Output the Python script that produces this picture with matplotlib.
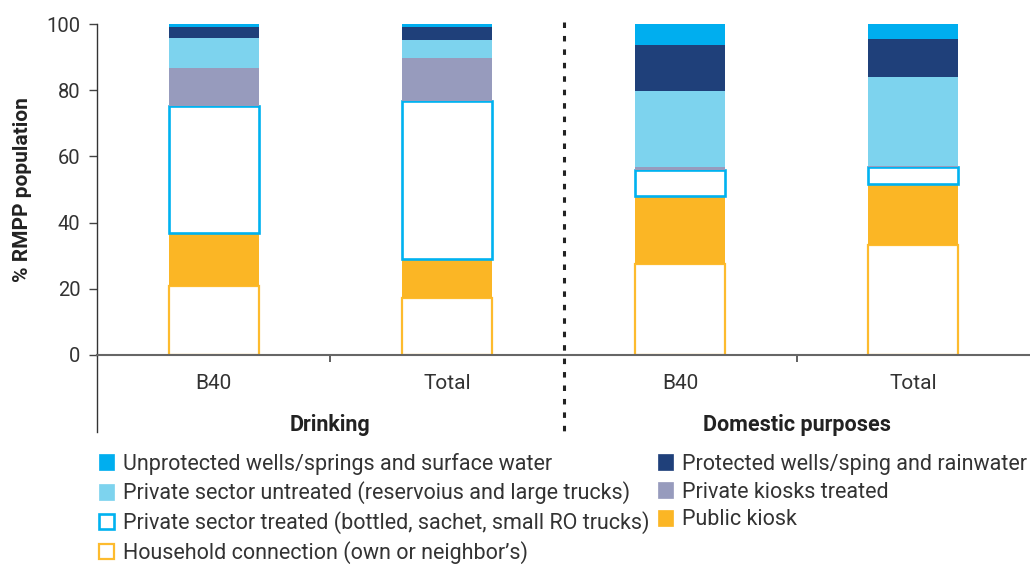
import matplotlib
matplotlib.use("Agg")
import matplotlib.pyplot as plt
import matplotlib.transforms as mtransforms
from matplotlib.patches import Patch
import numpy as np

plt.rcParams["font.family"] = ["Roboto", "DejaVu Sans"]

TEXT = "#333333"

bars = ["B40", "Total", "B40", "Total"]
groups = ["Drinking", "Domestic purposes"]

# stacked shares, bottom to top (% of RMPP population)
household = [20.8, 17.3, 27.4, 33.2]
public_kiosk = [16.2, 11.6, 20.6, 18.4]
private_treated = [38.1, 47.9, 7.8, 5.3]
kiosks_treated = [11.7, 13.0, 1.1, 0.2]
private_untreated = [9.1, 5.5, 22.9, 27.0]
protected = [3.3, 3.9, 13.9, 11.5]
unprotected = [0.8, 0.8, 6.3, 4.4]

series = [
    ("Household connection (own or neighbor\u2019s)", household, "white", "#FDBB2E", 1.6),
    ("Public kiosk", public_kiosk, "#FBB625", "none", 0),
    ("Private sector treated (bottled, sachet, small RO trucks)", private_treated, "white", "#00B2F0", 1.9),
    ("Private kiosks treated", kiosks_treated, "#979BBD", "none", 0),
    ("Private sector untreated (reservoius and large trucks)", private_untreated, "#7DD3EE", "none", 0),
    ("Protected wells/sping and rainwater", protected, "#1F407A", "none", 0),
    ("Unprotected wells/springs and surface water", unprotected, "#00AEEF", "none", 0),
]

fig = plt.figure(figsize=(10.30, 5.64), dpi=100)
ax = fig.add_axes([97 / 1030, 1 - 355 / 564, 1 - 97 / 1030, 331 / 564])

x = np.arange(len(bars))
width = 0.385
bottom = np.zeros(len(bars))
handles = {}
for label, vals, face, edge, lw in series:
    vals = np.array(vals)
    ax.bar(x, vals, width, bottom=bottom, color=face, edgecolor=edge, linewidth=lw, zorder=2)
    handles[label] = Patch(facecolor=face, edgecolor=edge if edge != "none" else face, linewidth=max(lw, 0.5))
    bottom += vals

ax.set_xlim(-0.5, len(bars) - 0.5)
ax.set_ylim(0, 100)
ax.set_yticks(range(0, 101, 20))
ax.set_xticks(x)
ax.set_xticklabels(bars)
ax.set_xticks([0.5, 2.5], minor=True)
ax.tick_params(axis="x", which="major", length=0, pad=14, labelsize=15, labelcolor=TEXT)
ax.tick_params(axis="x", which="minor", length=5, width=1.2, color="#444444", direction="out")
ax.tick_params(axis="y", length=6, width=1, color="#444444", pad=6, labelsize=14.5, labelcolor=TEXT)

for s in ["top", "right"]:
    ax.spines[s].set_visible(False)
ax.spines["left"].set_color("#333333")
ax.spines["left"].set_linewidth(1.0)
ax.spines["bottom"].set_color("#666666")
ax.spines["bottom"].set_linewidth(1.5)

# left spine continues down through the category labels
ax.plot([0, 0], [0, -0.233], transform=ax.transAxes, color="#333333", lw=1.0, clip_on=False)

# dotted separator between the two groups
trans = mtransforms.blended_transform_factory(ax.transData, ax.transAxes)
ax.plot([1.5, 1.5], [1.006, -0.233], transform=trans, color="#222222", lw=2.2,
        linestyle=(0, (1.8, 2.6)), clip_on=False)

for i, g in enumerate(groups):
    ax.text(0.5 + 2 * i, -0.212, g, transform=trans, ha="center", va="center",
            fontsize=15.5, fontweight="bold", color="#222222")

ax.set_ylabel("% RMPP population", fontsize=15, fontweight="bold", color="#222222", labelpad=10)

order = [
    "Unprotected wells/springs and surface water",
    "Private sector untreated (reservoius and large trucks)",
    "Private sector treated (bottled, sachet, small RO trucks)",
    "Household connection (own or neighbor\u2019s)",
    "Protected wells/sping and rainwater",
    "Private kiosks treated",
    "Public kiosk",
]
leg = fig.legend([handles[k] for k in order], order, loc="upper left",
                 bbox_to_anchor=(90 / 1030, 1 - 444 / 564), ncol=2, frameon=False,
                 fontsize=15.5, handlelength=0.72, handleheight=0.72, handletextpad=0.4,
                 columnspacing=0.4, labelspacing=0.32, borderaxespad=0)
for t in leg.get_texts():
    t.set_color(TEXT)

fig.savefig("out.png", dpi=100)
